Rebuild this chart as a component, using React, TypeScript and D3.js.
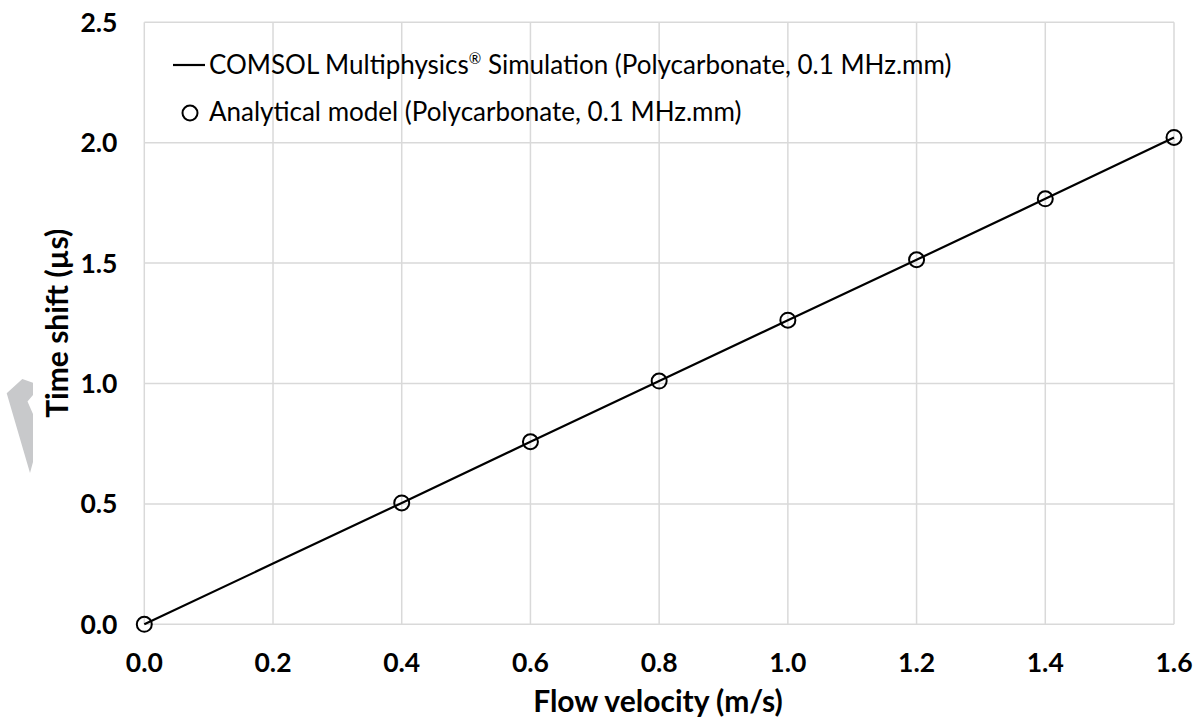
import React from "react";
import * as d3 from "d3";

// Flow velocity (m/s) at which the analytical model was evaluated
const analyticalVelocity = [0, 0.4, 0.6, 0.8, 1.0, 1.2, 1.4, 1.6];
// Time shift (µs) from the analytical model
const analyticalShift = [0, 0.504, 0.758, 1.01, 1.263, 1.514, 1.767, 2.022];

// COMSOL simulation sweep
const simulationVelocity = [0, 0.2, 0.4, 0.6, 0.8, 1.0, 1.2, 1.4, 1.6];
const simulationShift = [0, 0.252, 0.504, 0.758, 1.01, 1.263, 1.514, 1.767, 2.022];

const xTicks = [0, 0.2, 0.4, 0.6, 0.8, 1.0, 1.2, 1.4, 1.6];
const yTicks = [0, 0.5, 1.0, 1.5, 2.0, 2.5];

const simulationLabel = ["COMSOL Multiphysics", "®", " Simulation (Polycarbonate, 0.1 MHz.mm)"];
const analyticalLabel = "Analytical model (Polycarbonate, 0.1 MHz.mm)";

const W = 1200;
const H = 722;
const plot = { left: 144.3, right: 1174, top: 22.3, bottom: 624.3 };
const FONT = "Lato, 'Open Sans', sans-serif";

export default function App() {
  const x = d3.scaleLinear().domain([0, 1.6]).range([plot.left, plot.right]);
  const y = d3.scaleLinear().domain([0, 2.5]).range([plot.bottom, plot.top]);

  const simPts: [number, number][] = simulationVelocity.map((v, i) => [v, simulationShift[i]]);
  const line = d3
    .line<[number, number]>()
    .x((d) => x(d[0]))
    .y((d) => y(d[1]));

  const fmt = d3.format(".1f");
  const gridColor = "#d9d9d9";
  const tickSize = 26.5;
  const titleSize = 30;
  const legendSize = 26;

  return (
    <svg
      width={W}
      height={H}
      viewBox={`0 0 ${W} ${H}`}
      style={{ position: "absolute", left: 0, top: 0, background: "#fff" }}
    >
      <rect x={0} y={0} width={W} height={H} fill="#fff" />

      {/* grey arrow mark on the left margin */}
      <polygon
        points="6.7,393.3 22.3,379 33,382.7 33,395 27.5,401.5 33,414 33,462 30,473"
        fill="#c8c9cb"
      />

      {/* gridlines */}
      {xTicks.map((t) => (
        <line
          key={`gx${t}`}
          x1={x(t)}
          x2={x(t)}
          y1={plot.top}
          y2={plot.bottom}
          stroke={gridColor}
          strokeWidth={1.5}
        />
      ))}
      {yTicks.map((t) => (
        <line
          key={`gy${t}`}
          x1={plot.left}
          x2={plot.right}
          y1={y(t)}
          y2={y(t)}
          stroke={gridColor}
          strokeWidth={1.5}
        />
      ))}

      {/* tick labels */}
      {xTicks.map((t) => (
        <text
          key={`tx${t}`}
          x={x(t)}
          y={672}
          textAnchor="middle"
          fontFamily={FONT}
          fontWeight="bold"
          fontSize={tickSize}
          fill="#000"
        >
          {fmt(t)}
        </text>
      ))}
      {yTicks.map((t) => (
        <text
          key={`ty${t}`}
          x={117.5}
          y={y(t)}
          dy="0.36em"
          textAnchor="end"
          fontFamily={FONT}
          fontWeight="bold"
          fontSize={tickSize}
          fill="#000"
        >
          {fmt(t)}
        </text>
      ))}

      {/* axis titles */}
      <text
        x={658}
        y={712}
        textAnchor="middle"
        fontFamily={FONT}
        fontWeight="bold"
        fontSize={titleSize}
        fill="#000"
      >
        Flow velocity (m/s)
      </text>
      <text
        transform={`translate(68,${(plot.top + plot.bottom) / 2}) rotate(-90)`}
        textAnchor="middle"
        fontFamily={FONT}
        fontWeight="bold"
        fontSize={titleSize}
        fill="#000"
      >
        Time shift (µs)
      </text>

      {/* simulation line */}
      <path d={line(simPts) ?? ""} fill="none" stroke="#000" strokeWidth={2.2} />

      {/* analytical points */}
      {analyticalVelocity.map((v, i) => (
        <circle
          key={`p${i}`}
          cx={x(v)}
          cy={y(analyticalShift[i])}
          r={7.5}
          fill="none"
          stroke="#000"
          strokeWidth={2}
        />
      ))}

      {/* legend */}
      <line x1={173} x2={205} y1={65} y2={65} stroke="#000" strokeWidth={2.2} />
      <text x={209} y={74} fontFamily={FONT} fontSize={legendSize} fill="#000">
        <tspan>{simulationLabel[0]}</tspan>
        <tspan fontSize={15} dy={-10}>
          {simulationLabel[1]}
        </tspan>
        <tspan dy={10}>{simulationLabel[2]}</tspan>
      </text>
      <circle cx={190} cy={113} r={7.5} fill="none" stroke="#000" strokeWidth={2} />
      <text x={209} y={121} fontFamily={FONT} fontSize={legendSize} fill="#000">
        {analyticalLabel}
      </text>
    </svg>
  );
}
